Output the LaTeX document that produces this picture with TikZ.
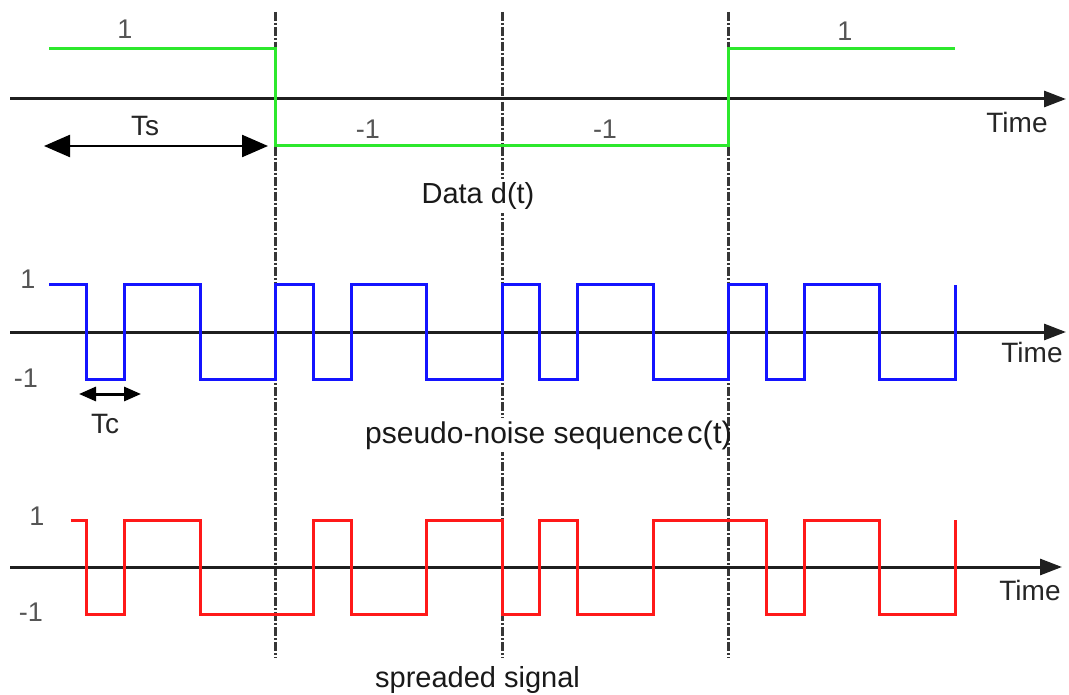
\documentclass[tikz,border=0pt]{standalone}
\usepackage{fontspec}
\setmainfont{Liberation Sans}
\usetikzlibrary{arrows.meta}

\definecolor{datagreen}{RGB}{45,232,45}
\definecolor{chipblue}{RGB}{20,20,255}
\definecolor{spreadred}{RGB}{255,25,25}
\definecolor{guidegray}{RGB}{55,55,55}
\definecolor{labelgray}{RGB}{85,85,85}

\tikzset{
  axis/.style={line width=3pt, draw=black!88, -{Triangle[length=22pt,width=16pt]}},
  guide/.style={line width=3pt, draw=guidegray, dash pattern=on 9pt off 2pt on 2pt off 2pt},
  datawave/.style={line width=3pt, draw=datagreen},
  chipwave/.style={line width=3pt, draw=chipblue},
  spreadwave/.style={line width=3pt, draw=spreadred},
  span/.style={line width=2.4pt, draw=black, {Triangle[length=26pt,width=22pt]}-{Triangle[length=26pt,width=22pt]}},
  chipspan/.style={line width=3pt, draw=black, {Triangle[length=17pt,width=14pt]}-{Triangle[length=17pt,width=14pt]}},
  level/.style={font=\fontsize{27}{30}\selectfont, text=labelgray, inner sep=1pt},
  tag/.style={font=\fontsize{28}{30}\selectfont, text=black!85, inner sep=1pt},
  caption/.style={font=\fontsize{29}{32}\selectfont, text=black!90, fill=white, inner sep=3pt},
}

\begin{document}
\begin{tikzpicture}[x=1pt,y=-1pt]
\fill[white] (0,0) rectangle (1069,695);
\useasboundingbox (0,0) rectangle (1069,695);

% chip grid: first chip starts at x=49, chip length 37.75
% symbol boundaries (6 chips per symbol)
\foreach \k in {6,12,18}
  \draw[guide] ({49+37.75*\k},12) -- ({49+37.75*\k},658);

% ---------- data d(t) ----------
\draw[axis] (10,99) -- (1066,99);
\draw[datawave] (49,49) -- (275.5,49) -- (275.5,146) -- (728.5,146) -- (728.5,49) -- (955,49);
\node[level] (d1) at (125,29) {1};
\node[level] (d2) at (368,129) {-1};
\node[level] (d3) at (605,129) {-1};
\node[level] (d4) at (845,31) {1};
\node[tag] (tsl) at (145,126) {Ts};
\coordinate (tsa) at (44,146);
\coordinate (tsb) at (268,146);
\draw[span] (tsa) -- (tsb);
\node[tag] (t1) at (1017,122) {Time};
\node[caption] (cap1) at (478,196) {Data d(t)};

% ---------- pseudo-noise sequence c(t) ----------
\draw[axis] (10,332) -- (1066,332);
\begin{scope}[xshift=49pt, x=37.75pt]
\draw[chipwave] (0,285) -- (1,285) -- (1,379) -- (2,379) -- (2,285) -- (4,285) -- (4,379)
  -- (6,379) -- (6,285) -- (7,285) -- (7,379) -- (8,379) -- (8,285) -- (10,285) -- (10,379)
  -- (12,379) -- (12,285) -- (13,285) -- (13,379) -- (14,379) -- (14,285) -- (16,285) -- (16,379)
  -- (18,379) -- (18,285) -- (19,285) -- (19,379) -- (20,379) -- (20,285) -- (22,285) -- (22,379)
  -- (24,379) -- (24,285);
\end{scope}
\node[level] (c1) at (28,279) {1};
\node[level] (c2) at (26,378) {-1};
\node[tag] (t2) at (1032,352) {Time};
\coordinate (tca) at (79,394);
\coordinate (tcb) at (141,394);
\draw[chipspan] (tca) -- (tcb);
\node[tag] (tcl) at (105,424) {Tc};
\node[caption, anchor=base west, font=\fontsize{30}{32}\selectfont] (cap2) at (362,443) {pseudo-noise sequence};
\node[caption, fill=none, inner sep=0pt, anchor=base west, font=\fontsize{31}{32}\selectfont]
  (cap2c) at (cap2.base east) {c(t)};

% ---------- spreaded signal ----------
\draw[axis] (10,567) -- (1062,567);
\begin{scope}[xshift=49pt, x=37.75pt]
\draw[spreadwave] (0.57,520) -- (1,520) -- (1,614) -- (2,614) -- (2,520) -- (4,520) -- (4,614)
  -- (7,614) -- (7,520) -- (8,520) -- (8,614) -- (10,614) -- (10,520) -- (12,520) -- (12,614)
  -- (13,614) -- (13,520) -- (14,520) -- (14,614) -- (16,614) -- (16,520) -- (19,520) -- (19,614)
  -- (20,614) -- (20,520) -- (22,520) -- (22,614) -- (24,614) -- (24,520);
\end{scope}
\node[level] (s1) at (37,516) {1};
\node[level] (s2) at (31,612) {-1};
\node[tag] (t3) at (1030,590) {Time};
\node[caption, anchor=base west] (cap3) at (372,687) {spreaded signal};
\end{tikzpicture}
\end{document}
